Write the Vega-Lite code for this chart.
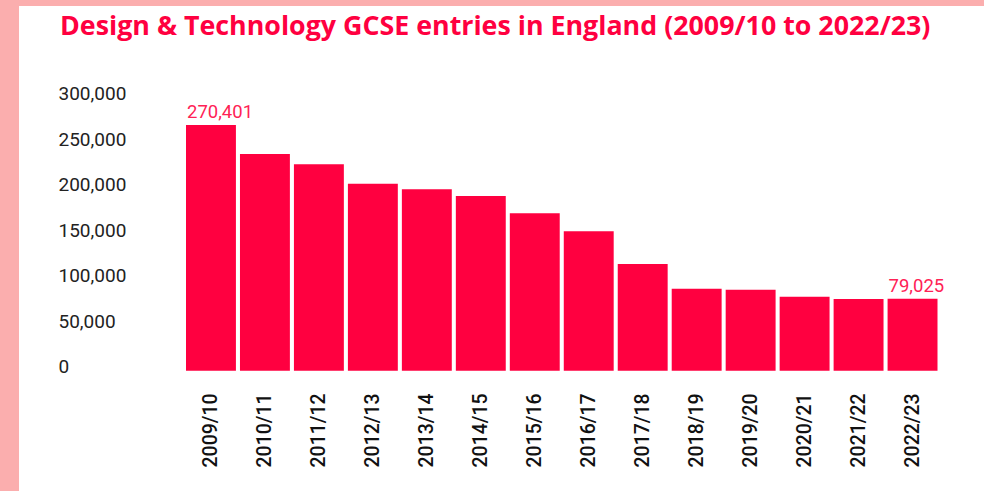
{
  "$schema": "https://vega.github.io/schema/vega-lite/v6.json",
  "autosize": {"type": "none"},
  "width": 965,
  "height": 485,
  "padding": {"left": 19, "top": 6, "right": 0, "bottom": 0},
  "background": "#FBAEAE",
  "config": {
    "view": {"fill": "white", "stroke": null},
    "font": "Roboto"
  },
  "title": {
    "text": "Design & Technology GCSE entries in England (2009/10 to 2022/23)",
    "anchor": "start",
    "frame": "bounds",
    "orient": "top",
    "offset": 0,
    "baseline": "alphabetic",
    "dx": 41,
    "dy": 56,
    "font": "Open Sans",
    "fontSize": 26.8,
    "fontWeight": "bold",
    "color": "#FF0040"
  },
  "data": {
    "values": [
      {"year": "2009/10", "entries": 270401},
      {"year": "2010/11", "entries": 238500},
      {"year": "2011/12", "entries": 227000},
      {"year": "2012/13", "entries": 205800},
      {"year": "2013/14", "entries": 199600},
      {"year": "2014/15", "entries": 192300},
      {"year": "2015/16", "entries": 173200},
      {"year": "2016/17", "entries": 153400},
      {"year": "2017/18", "entries": 117400},
      {"year": "2018/19", "entries": 90200},
      {"year": "2019/20", "entries": 89100},
      {"year": "2020/21", "entries": 81400},
      {"year": "2021/22", "entries": 79000},
      {"year": "2022/23", "entries": 79025}
    ]
  },
  "encoding": {
    "x": {
      "field": "year",
      "type": "ordinal",
      "sort": null,
      "scale": {"range": [167, 918.5], "paddingInner": 0.075, "paddingOuter": 0},
      "axis": {
        "title": null,
        "domain": false,
        "ticks": false,
        "labelAngle": -90,
        "labelAlign": "left",
        "labelBaseline": "middle",
        "labelPadding": -24,
        "labelFont": "Roboto",
        "labelFontSize": 19.5,
        "labelFontWeight": 500,
        "labelColor": "#111111"
      }
    },
    "y": {
      "field": "entries",
      "type": "quantitative",
      "scale": {"domain": [-132343, 401210], "nice": false, "zero": false},
      "axis": {
        "title": null,
        "values": [0, 50000, 100000, 150000, 200000, 250000, 300000],
        "format": ",d",
        "domain": false,
        "ticks": false,
        "tickSize": 0,
        "grid": false,
        "labelAlign": "left",
        "labelPadding": -39,
        "labelOffset": -4,
        "labelFlush": false,
        "labelFont": "Roboto",
        "labelFontSize": 19,
        "labelColor": "#222222"
      }
    }
  },
  "layer": [
    {"mark": {"type": "bar", "color": "#FF0040"}},
    {
      "transform": [{"filter": "datum.year == '2009/10' || datum.year == '2022/23'"}],
      "mark": {"type": "text", "align": "left", "baseline": "alphabetic", "dx": 1, "dy": -7, "fontSize": 18.5, "color": "#FF2255", "font": "Roboto"},
      "encoding": {
        "x": {"field": "year", "type": "ordinal", "sort": null, "bandPosition": 0},
        "text": {"field": "entries", "type": "quantitative", "format": ",d"}
      }
    }
  ]
}
